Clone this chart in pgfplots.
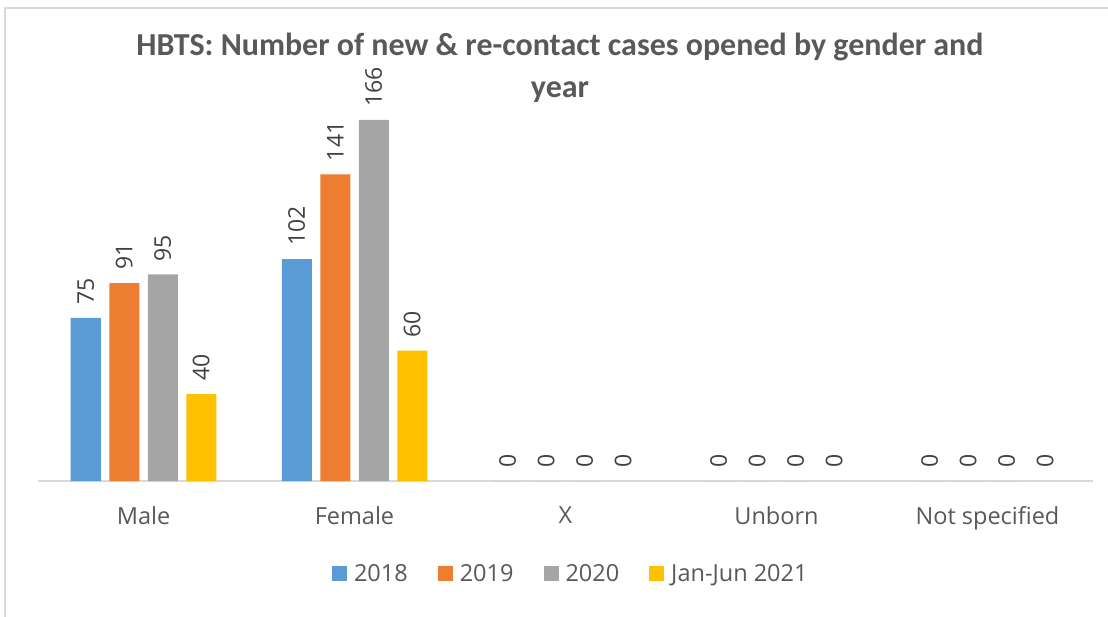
\documentclass[border=0pt]{standalone}
\usepackage{pgfplots}
\pgfplotsset{compat=1.18}
\usepackage{fontspec}
\setmainfont{Open Sans}
\newfontfamily\titlefont{Carlito}
\definecolor{cblue}{HTML}{5B9BD5}
\definecolor{corange}{HTML}{ED7D31}
\definecolor{cgray}{HTML}{A5A5A5}
\definecolor{cyellow}{HTML}{FFC000}
\definecolor{txt}{HTML}{595959}
\definecolor{lab}{HTML}{404040}
\definecolor{grid}{HTML}{D9D9D9}
\begin{document}
\begin{tikzpicture}[x=1pt,y=1pt]
\useasboundingbox (0,0) rectangle (1108,616);
\draw[grid,line width=1.5pt] (5,608) rectangle (1125,-20);
\node[txt,align=center,font=\titlefont\bfseries\fontsize{32}{42}\selectfont] at (560,548) {HBTS: Number of new \& re-contact cases opened by gender and\\year};
\begin{axis}[
  at={(38pt,135pt)}, anchor=south west,
  scale only axis, width=1055pt, height=391.5pt,
  xmin=-0.5, xmax=4.5, ymin=0, ymax=180,
  ybar=8.5pt, bar width=30pt,
  axis x line*=bottom, axis y line=none,
  axis line style={grid,line width=1.5pt},
  xtick={0,1,2,3,4},
  xticklabels={Male,Female,X,Unborn,Not specified},
  major tick length=0pt,
  xticklabel style={font=\fontsize{23.5}{27}\selectfont,text=txt,yshift=-22pt},
  /pgf/number format/assume math mode=true,
  nodes near coords,
  every node near coord/.append style={rotate=90,anchor=west,font=\fontsize{23}{27}\selectfont,text=lab,inner xsep=13pt},
  legend columns=4,
  legend style={draw=none,at={(0.505,-0.2375)},anchor=center,
    font=\fontsize{23.5}{27}\selectfont,text=txt,
    /tikz/every odd column/.append style={column sep=5pt},
    /tikz/every even column/.append style={column sep=28pt}},
  legend image code/.code={\fill[#1] (0pt,-7.5pt) rectangle (15pt,7.5pt);},
]
\addplot[fill=cblue,draw=none] coordinates {(0,75) (1,102) (2,0) (3,0) (4,0)};
\addplot[fill=corange,draw=none] coordinates {(0,91) (1,141) (2,0) (3,0) (4,0)};
\addplot[fill=cgray,draw=none] coordinates {(0,95) (1,166) (2,0) (3,0) (4,0)};
\addplot[fill=cyellow,draw=none] coordinates {(0,40) (1,60) (2,0) (3,0) (4,0)};
\legend{2018,2019,2020,Jan-Jun 2021}
\end{axis}
\end{tikzpicture}
\end{document}
